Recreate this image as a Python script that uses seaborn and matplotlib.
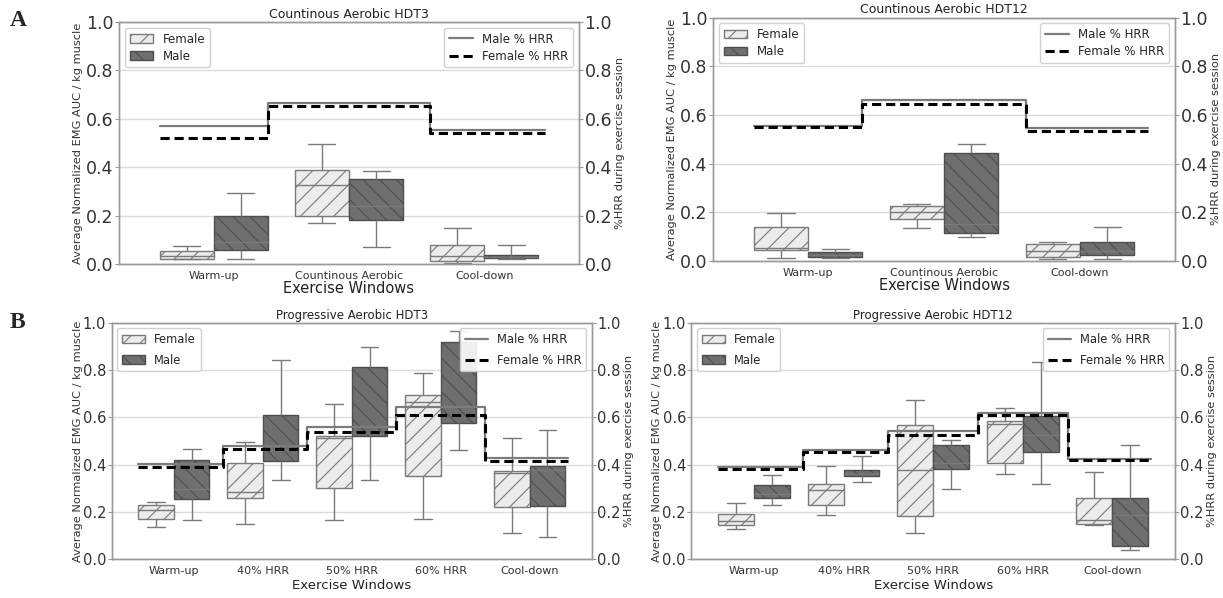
import numpy as np
import pandas as pd
import matplotlib
matplotlib.use("Agg")
import matplotlib.pyplot as plt
from matplotlib.patches import Patch
from matplotlib.ticker import FormatStrFormatter
import seaborn as sns

# ---------------------------------------------------------------------------
# Data: each box is given as its five-number summary
# [lower whisker, Q1, median, Q3, upper whisker]
# ---------------------------------------------------------------------------
cont_windows = ["Warm-up", "Countinous Aerobic", "Cool-down"]
prog_windows = ["Warm-up", "40% HRR", "50% HRR", "60% HRR", "Cool-down"]
sexes = ["Female", "Male"]

# Continuous aerobic, HDT3
cont3_female = [[0.019, 0.021, 0.034, 0.054, 0.075],
                [0.170, 0.200, 0.327, 0.387, 0.497],
                [0.003, 0.014, 0.032, 0.080, 0.150]]
cont3_male = [[0.020, 0.057, 0.091, 0.197, 0.295],
              [0.071, 0.182, 0.239, 0.352, 0.384],
              [0.020, 0.023, 0.031, 0.038, 0.078]]
cont3_hrr_male = [0.572, 0.665, 0.552]
cont3_hrr_female = [0.520, 0.654, 0.540]

# Continuous aerobic, HDT12
cont12_female = [[0.011, 0.045, 0.055, 0.139, 0.199],
                 [0.134, 0.173, 0.203, 0.228, 0.233],
                 [0.008, 0.016, 0.040, 0.068, 0.079]]
cont12_male = [[0.011, 0.016, 0.026, 0.038, 0.051],
               [0.097, 0.117, 0.151, 0.443, 0.482],
               [0.007, 0.023, 0.041, 0.079, 0.139]]
cont12_hrr_male = [0.556, 0.660, 0.546]
cont12_hrr_female = [0.552, 0.646, 0.533]

# Progressive aerobic, HDT3
prog3_female = [[0.135, 0.169, 0.207, 0.228, 0.244],
                [0.150, 0.261, 0.286, 0.408, 0.497],
                [0.166, 0.300, 0.511, 0.521, 0.656],
                [0.170, 0.354, 0.666, 0.694, 0.789],
                [0.110, 0.220, 0.363, 0.375, 0.513]]
prog3_male = [[0.165, 0.256, 0.296, 0.418, 0.467],
              [0.334, 0.415, 0.460, 0.610, 0.842],
              [0.334, 0.520, 0.533, 0.813, 0.896],
              [0.461, 0.575, 0.650, 0.918, 0.966],
              [0.093, 0.224, 0.377, 0.393, 0.546]]
prog3_hrr_male = [0.403, 0.477, 0.558, 0.643, 0.427]
prog3_hrr_female = [0.390, 0.468, 0.537, 0.608, 0.414]

# Progressive aerobic, HDT12
prog12_female = [[0.127, 0.144, 0.160, 0.190, 0.238],
                 [0.187, 0.228, 0.291, 0.320, 0.396],
                 [0.113, 0.185, 0.377, 0.569, 0.672],
                 [0.360, 0.407, 0.572, 0.583, 0.638],
                 [0.144, 0.150, 0.167, 0.257, 0.369]]
prog12_male = [[0.230, 0.261, 0.276, 0.313, 0.356],
               [0.328, 0.351, 0.362, 0.376, 0.435],
               [0.298, 0.381, 0.407, 0.484, 0.505],
               [0.318, 0.455, 0.524, 0.604, 0.833],
               [0.040, 0.058, 0.188, 0.257, 0.483]]
prog12_hrr_male = [0.390, 0.462, 0.543, 0.619, 0.426]
prog12_hrr_female = [0.383, 0.453, 0.526, 0.610, 0.418]

# ---------------------------------------------------------------------------
# Style
# ---------------------------------------------------------------------------
sns.set_style("whitegrid")
plt.rcParams["font.family"] = ["DejaVu Sans"]
plt.rcParams["hatch.linewidth"] = 0.8

FEMALE_FILL = "#ececec"
MALE_FILL = "#6f6f6f"
FEMALE_EDGE = "#7a7a7a"
MALE_EDGE = "#4e4e4e"
SPINE = "#9a9a9a"
GRID = "#dcdcdc"
FEMALE_HATCH = "//"
MALE_HATCH = "\\\\"

FONTS_CONT = dict(ytick=12.5, xtick=8, title=9, xlabel=10.5, ylabel=8.2, legend=8.5,
                  spacing=0.35, ylabelpad=2, xlabelpad=0)
FONTS_PROG = dict(ytick=10.5, xtick=8, title=8.5, xlabel=9.5, ylabel=8.2, legend=8.3,
                  spacing=0.65, ylabelpad=0, xlabelpad=2)

fig = plt.figure(figsize=(12.23, 5.98), dpi=100)


def long_frame(windows, female, male):
    rows = []
    for w, f, m in zip(windows, female, male):
        rows += [(w, "Female", v) for v in f]
        rows += [(w, "Male", v) for v in m]
    return pd.DataFrame(rows, columns=["window", "sex", "value"])


def draw_panel(rect, title, windows, female, male, hrr_male, hrr_female, edges, fonts):
    ax = fig.add_axes(rect)
    df = long_frame(windows, female, male)
    sns.boxplot(data=df, x="window", y="value", hue="sex", order=windows,
                hue_order=sexes, palette={"Female": FEMALE_FILL, "Male": MALE_FILL},
                saturation=1, whis=(0, 100), width=0.8, gap=0,
                linecolor=FEMALE_EDGE, linewidth=1.0, legend=False, ax=ax)
    for patch in ax.patches:
        if patch.get_facecolor()[0] > 0.5:
            patch.set_hatch(FEMALE_HATCH)
            patch.set_edgecolor(FEMALE_EDGE)
        else:
            patch.set_hatch(MALE_HATCH)
            patch.set_edgecolor(MALE_EDGE)

    n = len(windows)
    ax.set_xlim(-0.7, n - 1 + 0.7)
    ax.set_ylim(0, 1)
    ax.set_yticks(np.arange(0, 1.01, 0.2))
    ax.yaxis.set_major_formatter(FormatStrFormatter("%.1f"))
    ax.grid(axis="y", color=GRID, lw=1.0)
    ax.grid(axis="x", visible=False)
    ax.tick_params(axis="y", labelsize=fonts["ytick"], length=3, color=SPINE, pad=1,
                   labelcolor="#333333")
    ax.tick_params(axis="x", labelsize=fonts["xtick"], length=3, color=SPINE, pad=2,
                   labelcolor="#333333")
    ax.set_xlabel("Exercise Windows", fontsize=fonts["xlabel"], labelpad=fonts["xlabelpad"],
                  color="#222222")
    ax.set_ylabel("Average Normalized EMG AUC / kg muscle", fontsize=fonts["ylabel"],
                  labelpad=fonts["ylabelpad"], color="#333333")
    ax.set_title(title, fontsize=fonts["title"], pad=3, color="#222222")

    box_handles = [Patch(facecolor=FEMALE_FILL, edgecolor=FEMALE_EDGE, hatch="//", label="Female"),
                   Patch(facecolor=MALE_FILL, edgecolor=MALE_EDGE, hatch="\\\\", label="Male")]
    ax.legend(handles=box_handles, loc="upper left", fontsize=fonts["legend"],
              labelspacing=fonts["spacing"], borderpad=0.4, handlelength=2.0, framealpha=0.9)

    ax2 = ax.twinx()
    ax2.step(edges, list(hrr_male) + [hrr_male[-1]], where="post", color="#7c7c7c",
             lw=1.6, label="Male % HRR")
    ax2.step(edges, list(hrr_female) + [hrr_female[-1]], where="post", color="black",
             lw=2.2, ls=(0, (3, 1.6)), label="Female % HRR")
    ax2.set_ylim(0, 1)
    ax2.set_yticks(np.arange(0, 1.01, 0.2))
    ax2.yaxis.set_major_formatter(FormatStrFormatter("%.1f"))
    ax2.grid(False)
    ax2.tick_params(axis="y", labelsize=fonts["ytick"], length=3, color=SPINE, pad=1,
                    labelcolor="#333333")
    ax2.set_ylabel("%HRR during exercise session", fontsize=fonts["ylabel"],
                   labelpad=2, color="#333333")
    ax2.legend(loc="upper right", fontsize=fonts["legend"],
               labelspacing=fonts["spacing"], borderpad=0.4, handlelength=2.0, framealpha=0.9)
    for a in (ax, ax2):
        for s in a.spines.values():
            s.set_color(SPINE)
            s.set_linewidth(1.0)
    return ax


draw_panel([0.0973, 0.5585, 0.3761, 0.4047], "Countinous Aerobic HDT3", cont_windows,
           cont3_female, cont3_male, cont3_hrr_male, cont3_hrr_female,
           [-0.4, 0.4, 1.6, 2.45], FONTS_CONT)
draw_panel([0.5830, 0.5635, 0.3778, 0.4072], "Countinous Aerobic HDT12", cont_windows,
           cont12_female, cont12_male, cont12_hrr_male, cont12_hrr_female,
           [-0.4, 0.4, 1.6, 2.5], FONTS_CONT)
draw_panel([0.0913, 0.0647, 0.3927, 0.3957], "Progressive Aerobic HDT3", prog_windows,
           prog3_female, prog3_male, prog3_hrr_male, prog3_hrr_female,
           [-0.4, 0.55, 1.5, 2.5, 3.5, 4.43], FONTS_PROG)
draw_panel([0.5654, 0.0647, 0.3953, 0.3957], "Progressive Aerobic HDT12", prog_windows,
           prog12_female, prog12_male, prog12_hrr_male, prog12_hrr_female,
           [-0.4, 0.55, 1.5, 2.5, 3.5, 4.43], FONTS_PROG)

fig.text(10 / 1223, 1 - 21 / 598, "A", family="Liberation Serif", weight="bold",
         fontsize=17, va="center", ha="left")
fig.text(10 / 1223, 1 - 322 / 598, "B", family="Liberation Serif", weight="bold",
         fontsize=17, va="center", ha="left")

fig.savefig("out.png", dpi=100, facecolor="white")
